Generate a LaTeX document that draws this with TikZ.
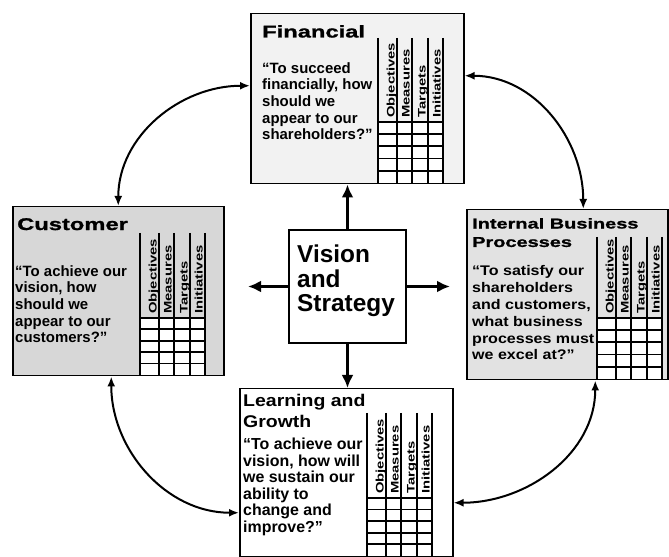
\documentclass[tikz,border=0pt]{standalone}
\usepackage{fontspec}
\usepackage{graphicx}
\setmainfont{Liberation Sans}
\newfontfamily\widefont{Liberation Sans}[FakeStretch=1.4, FakeBold=1.2]
\newfontfamily\loosefont{Liberation Sans}[FakeStretch=1.15]
\usetikzlibrary{positioning, arrows.meta}

\begin{document}
\begin{tikzpicture}[x=1bp, y=1bp,
  card/.style={draw, line width=1.5bp, anchor=north west, inner sep=0pt},
  head/.style={anchor=north west, inner sep=0pt, align=left},
  quote/.style={anchor=north west, inner sep=0pt, align=left, font=\bfseries\fontsize{15}{16.8}\selectfont},
  gridline/.style={line width=1.8bp},
  collabel/.style={rotate=90, anchor=base west, inner sep=0pt, font=\bfseries\fontsize{11}{11}\selectfont},
  spoke/.style={line width=3.5bp, -{Latex[length=13bp,width=12bp]}},
  link/.style={line width=2bp, {Latex[length=10bp,width=8bp]}-{Latex[length=10bp,width=8bp]}}]

    \useasboundingbox (0,0) rectangle (669,557);

    \node[card, fill=gray!10, minimum width=213bp, minimum height=170bp] (fin) at (250,544) {};
    \node[card, fill=gray!31, minimum width=211bp, minimum height=169bp] (cus) at (12,351) {};
    \node[card, fill=gray!23, minimum width=201bp, minimum height=170bp] (ibp) at (466,348) {};
    \node[card, fill=white, minimum width=213bp, minimum height=168bp] (lag) at (239,169) {};
    \node[card, fill=white, line width=2bp, minimum width=117bp, minimum height=113bp] (vis) at (288,328) {};

    \foreach \b/\gx/\htop/\rtop/\bot in {fin/378/519/435/374, cus/140/324/239/182, ibp/597/320/239/178, lag/367/144/59/1} {
        \fill[white] (\gx,\bot) rectangle (\gx+65,\rtop);
        \foreach \c in {0,19,34,50,65}
            \draw[gridline] (\gx+\c,\htop) -- (\gx+\c,\bot);
        \foreach \r in {0,...,4}
            \draw[gridline] (\gx,{\rtop-\r*(\rtop-\bot)/5}) -- (\gx+65,{\rtop-\r*(\rtop-\bot)/5});
        \foreach \lab/\c in {Objectives/19, Measures/34, Targets/50, Initiatives/65}
            \node[collabel] (\b-\lab) at (\gx+\c-2.5,\rtop+4) {\scalebox{1.35}[1]{\lab}};
    }

    \node[head, font=\widefont\bfseries\fontsize{17}{20}\selectfont, below right=12bp and 12bp of fin.north west] (finT) {Financial};
    \node[quote, below right=49bp and 12bp of fin.north west] (finQ) {“To succeed\\financially, how\\should we\\appear to our\\shareholders?”};

    \node[head, font=\widefont\bfseries\fontsize{17}{20}\selectfont, below right=12bp and 5bp of cus.north west] (cusT) {Customer};
    \node[quote, below right=59bp and 3bp of cus.north west] (cusQ) {“To achieve our\\vision, how\\should we\\appear to our\\customers?”};

    \node[head, font=\widefont\bfseries\fontsize{14.3}{18.5}\selectfont, below right=9bp and 6bp of ibp.north west] (ibpT) {Internal Business\\Processes};
    \node[quote, font=\loosefont\bfseries\fontsize{14}{17}\selectfont, below right=56bp and 6bp of ibp.north west] (ibpQ) {“To satisfy our\\shareholders\\and customers,\\what business\\processes must\\we excel at?”};

    \node[head, font=\loosefont\bfseries\fontsize{17}{21}\selectfont, below right=6bp and 4bp of lag.north west] (lagT) {Learning and\\Growth};
    \node[quote, font=\bfseries\fontsize{16}{16.6}\selectfont, below right=50bp and 4bp of lag.north west] (lagQ) {“To achieve our\\vision, how will\\we sustain our\\ability to\\change and\\improve?”};

    \node[head, font=\bfseries\fontsize{24.5}{24.5}\selectfont, below right=16bp and 9bp of vis.north west] (visT) {Vision\\and\\Strategy};

    \coordinate[left=40bp of vis.west] (visW);
    \coordinate[right=43bp of vis.east] (visE);
    \draw[spoke] (vis.north) -- (vis.north |- fin.south);
    \draw[spoke] (vis.south) -- (vis.south |- lag.north);
    \draw[spoke] (vis.west) -- (visW);
    \draw[spoke] (vis.east) -- (visE);

    \draw[link] ([yshift=13bp]fin.west) to[out=180,in=90] (cus.north);
    \draw[link] ([yshift=23bp]fin.east) to[out=0,in=90] ([xshift=16bp]ibp.north);
    \draw[link] ([xshift=-7bp]cus.south) to[out=270,in=180] ([yshift=-40bp]lag.west);
    \draw[link] ([xshift=28bp]ibp.south) to[out=270,in=0] ([yshift=-30bp]lag.east);
\end{tikzpicture}
\end{document}
